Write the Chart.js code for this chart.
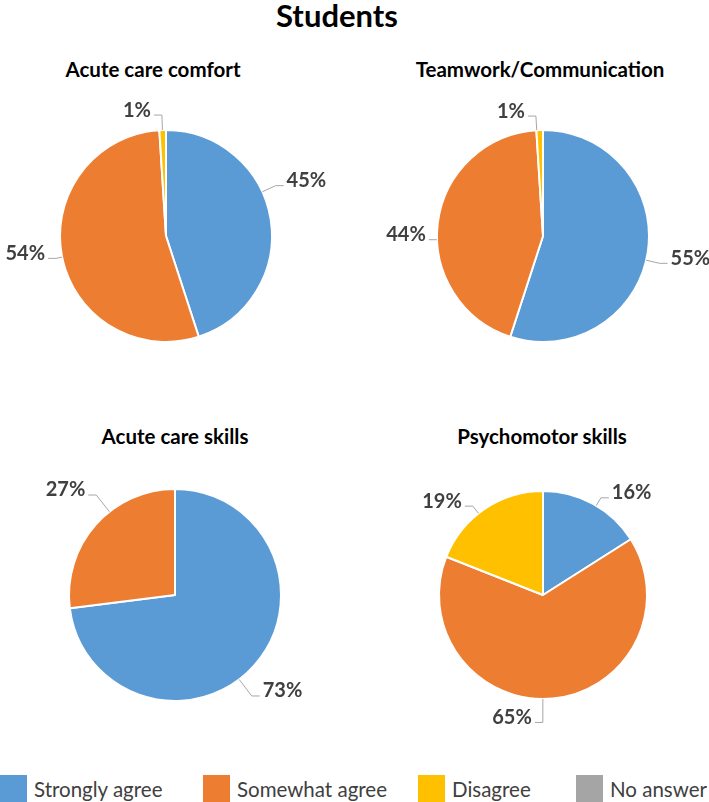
<!DOCTYPE html>
<html>
<head>
<meta charset="utf-8">
<script src="https://cdn.jsdelivr.net/npm/chart.js@4.4.1/dist/chart.umd.min.js"></script>
<style>
  body { margin: 0; background: #fff; font-family: Lato, 'Open Sans', sans-serif; }
  #page { position: relative; width: 709px; height: 802px; overflow: hidden; }
  .title { position: absolute; transform: translate(-50%, -50%); font-weight: bold; color: #000; white-space: nowrap; }
  #mainTitle { left: 337px; top: 15px; font-size: 31px; }
  .subTitle { font-size: 20.5px; }
  .pieBox { position: absolute; width: 340px; height: 300px; }
  .legendItem { position: absolute; top: 775px; display: flex; align-items: center; font-size: 20.5px; color: #404040; white-space: nowrap; }
  .legendItem span.box { display: inline-block; width: 27px; height: 27px; margin-right: 7px; }
</style>
</head>
<body>
<div id="page">
  <div id="mainTitle" class="title">Students</div>
</div>

<script>
// answer categories and colours
const categories = ['Strongly agree', 'Somewhat agree', 'Disagree', 'No answer'];
const sliceColors = ['#5B9BD5', '#ED7D31', '#FFC000', '#A5A5A5'];

// percentages per question (same order as categories)
const comfortValues = [45, 54, 1, 0];
const teamworkValues = [55, 44, 1, 0];
const skillsValues = [73, 27, 0, 0];
const psychomotorValues = [16, 65, 19, 0];

const chartTitles = ['Acute care comfort', 'Teamwork/Communication', 'Acute care skills', 'Psychomotor skills'];

// layout of each pie on the page, plus small nudges for the outside labels
const panels = [
  { values: comfortValues, cx: 166, cy: 236, r: 106, titleX: 153, titleY: 69,
    nudges: [[12, -35], [-13, -7], [-25, 4]] },
  { values: teamworkValues, cx: 543, cy: 236, r: 106, titleX: 540, titleY: 69,
    nudges: [[19, 2], [-8, 15], [-28, 5]] },
  { values: skillsValues, cx: 175, cy: 595, r: 106, titleX: 175, titleY: 436,
    nudges: [[10, 10], [-12, -19]] },
  { values: psychomotorValues, cx: 543, cy: 595, r: 104, titleX: 542, titleY: 436,
    nudges: [[27, 10], [-43, -5], [-29, 12]] }
];

const legendLefts = [0, 203, 418, 576];

const BOX_W = 340, BOX_H = 300;

// draws "45%" style labels outside the pie with Excel-like leader lines
const outsideLabels = {
  id: 'outsideLabels',
  afterDatasetsDraw(chart, args, opts) {
    const ctx = chart.ctx;
    const meta = chart.getDatasetMeta(0);
    const values = chart.data.datasets[0].data;
    ctx.save();
    ctx.font = 'bold 20px Lato, sans-serif';
    ctx.textAlign = 'center';
    ctx.textBaseline = 'middle';
    meta.data.forEach((arc, i) => {
      if (!values[i]) return;
      const { x, y, startAngle, endAngle, outerRadius } = arc.getProps(['x', 'y', 'startAngle', 'endAngle', 'outerRadius'], true);
      const mid = (startAngle + endAngle) / 2;
      const nudge = opts.nudges[i] || [0, 0];
      const lx = x + (outerRadius + 24) * Math.cos(mid) + nudge[0];
      const ly = y + (outerRadius + 24) * Math.sin(mid) + nudge[1];
      const text = values[i] + '%';
      const w = ctx.measureText(text).width;

      // leader line: arc edge -> elbow -> label side
      const right = lx > x;
      const ax = right ? lx - w / 2 - 3 : lx + w / 2 + 3;
      const ay = ly + 5;
      const ex = right ? ax - 8 : ax + 8;
      let ang = Math.atan2(ay - y, ex - x);
      while (ang < startAngle) ang += Math.PI * 2;
      while (ang > endAngle + Math.PI * 2) ang -= Math.PI * 2;
      const pad = Math.min(0.03, (endAngle - startAngle) / 4);
      if (ang > endAngle) {
        // outside the slice: snap to the nearer edge
        const dStart = Math.abs(ang - Math.PI * 2 - startAngle);
        const dEnd = Math.abs(ang - endAngle);
        ang = dStart < dEnd ? startAngle + pad : endAngle - pad;
      }
      const px = x + outerRadius * Math.cos(ang);
      const py = y + outerRadius * Math.sin(ang);
      ctx.strokeStyle = '#A6A6A6';
      ctx.lineWidth = 1;
      ctx.beginPath();
      ctx.moveTo(px, py);
      ctx.lineTo(ex, ay);
      ctx.lineTo(ax, ay);
      ctx.stroke();

      ctx.fillStyle = '#404040';
      ctx.fillText(text, lx, ly);
    });
    ctx.restore();
  }
};

const page = document.getElementById('page');

panels.forEach((p, k) => {
  const t = document.createElement('div');
  t.className = 'title subTitle';
  t.textContent = chartTitles[k];
  t.style.left = p.titleX + 'px';
  t.style.top = p.titleY + 'px';
  page.appendChild(t);

  const box = document.createElement('div');
  box.className = 'pieBox';
  box.style.left = (p.cx - BOX_W / 2) + 'px';
  box.style.top = (p.cy - BOX_H / 2) + 'px';
  const canvas = document.createElement('canvas');
  box.appendChild(canvas);
  page.appendChild(box);

  new Chart(canvas, {
    type: 'pie',
    data: {
      labels: categories,
      datasets: [{
        data: p.values,
        backgroundColor: sliceColors,
        borderColor: '#fff',
        borderWidth: 2,
        hoverOffset: 0
      }]
    },
    options: {
      responsive: true,
      maintainAspectRatio: false,
      animation: false,
      radius: p.r,
      layout: { padding: 40 },
      plugins: {
        legend: { display: false },
        tooltip: { enabled: false },
        outsideLabels: { nudges: p.nudges }
      }
    },
    plugins: [outsideLabels]
  });
});

categories.forEach((c, i) => {
  const item = document.createElement('div');
  item.className = 'legendItem';
  item.style.left = legendLefts[i] + 'px';
  const sw = document.createElement('span');
  sw.className = 'box';
  sw.style.background = sliceColors[i];
  const label = document.createElement('span');
  label.textContent = c;
  item.appendChild(sw);
  item.appendChild(label);
  page.appendChild(item);
});
</script>
</body>
</html>
